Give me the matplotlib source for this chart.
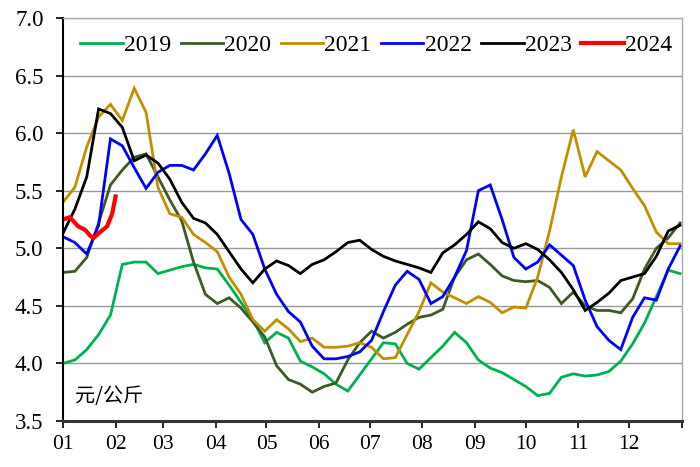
import numpy as np
import matplotlib
matplotlib.use("Agg")
import matplotlib.pyplot as plt

# weekly samples (day of year), one value per week
days = np.arange(0, 365, 7)

y2019 = [4.00, 4.03, 4.12, 4.25, 4.42, 4.86, 4.88, 4.88, 4.78, 4.81,
         4.84, 4.86, 4.83, 4.82, 4.68, 4.53, 4.38, 4.18, 4.27, 4.22,
         4.02, 3.97, 3.91, 3.82, 3.76, 3.90, 4.04, 4.18, 4.17, 4.00,
         3.95, 4.05, 4.15, 4.27, 4.18, 4.03, 3.96, 3.92, 3.86, 3.80,
         3.72, 3.74, 3.88, 3.91, 3.89, 3.90, 3.93, 4.02, 4.17, 4.35,
         4.58, 4.81, 4.78]
y2020 = [4.79, 4.80, 4.92, 5.22, 5.55, 5.68, 5.79, 5.82, 5.62, 5.42,
         5.24, 4.88, 4.60, 4.52, 4.57, 4.48, 4.36, 4.23, 3.98, 3.86,
         3.82, 3.75, 3.80, 3.83, 4.03, 4.18, 4.28, 4.22, 4.27, 4.34,
         4.40, 4.42, 4.47, 4.75, 4.90, 4.95, 4.86, 4.76, 4.72, 4.71,
         4.72, 4.66, 4.52, 4.62, 4.50, 4.46, 4.46, 4.44, 4.56, 4.82,
         5.00, 5.09, 5.22]
y2021 = [5.40, 5.53, 5.88, 6.14, 6.25, 6.11, 6.39, 6.18, 5.53, 5.30,
         5.27, 5.12, 5.05, 4.97, 4.75, 4.60, 4.38, 4.28, 4.38, 4.30,
         4.19, 4.22, 4.14, 4.14, 4.15, 4.18, 4.14, 4.04, 4.05, 4.25,
         4.45, 4.70, 4.62, 4.57, 4.52, 4.58, 4.53, 4.44, 4.49, 4.48,
         4.75, 5.15, 5.62, 6.03, 5.62, 5.84, 5.76, 5.68, 5.52, 5.37,
         5.14, 5.04, 5.04]
y2022 = [5.10, 5.05, 4.95, 5.20, 5.95, 5.89, 5.70, 5.52, 5.66, 5.72,
         5.72, 5.68, 5.82, 5.98, 5.65, 5.25, 5.12, 4.82, 4.60, 4.45,
         4.36, 4.15, 4.04, 4.04, 4.06, 4.10, 4.20, 4.45, 4.68, 4.80,
         4.73, 4.52, 4.58, 4.75, 4.98, 5.50, 5.55, 5.25, 4.92, 4.82,
         4.88, 5.03, 4.94, 4.85, 4.55, 4.32, 4.20, 4.12, 4.40, 4.57,
         4.55, 4.82, 5.02]
y2023 = [5.13, 5.34, 5.62, 6.21, 6.17, 6.05, 5.76, 5.81, 5.74, 5.60,
         5.40, 5.26, 5.22, 5.12, 4.97, 4.82, 4.70, 4.82, 4.89, 4.85,
         4.78, 4.86, 4.90, 4.97, 5.05, 5.07, 4.99, 4.93, 4.89, 4.86,
         4.83, 4.79, 4.96, 5.03, 5.12, 5.23, 5.17, 5.05, 5.00, 5.04,
         4.99, 4.90, 4.79, 4.64, 4.46, 4.53, 4.61, 4.72, 4.75, 4.78,
         4.93, 5.15, 5.20]
days2024 = [0, 4, 9, 13, 16, 18, 21, 26, 29, 31]
y2024 = [5.25, 5.27, 5.19, 5.16, 5.11, 5.09, 5.13, 5.19, 5.30, 5.45]

month_labels = ["01", "02", "03", "04", "05", "06",
                "07", "08", "09", "10", "11", "12"]
month_len = [31, 28, 31, 30, 31, 30, 31, 31, 30, 31, 30, 31]

fig = plt.figure(figsize=(7, 4.67), dpi=100)
ax = fig.add_axes([0.09, 0.0985, 0.884, 0.863])

series = [
    ("2019", days, y2019, "#00B050", 2.0),
    ("2020", days, y2020, "#3B5A26", 2.0),
    ("2021", days, y2021, "#C09000", 2.0),
    ("2022", days, y2022, "#0000FF", 2.0),
    ("2023", days, y2023, "#000000", 2.0),
    ("2024", days2024, y2024, "#FF0000", 3.0),
]
for name, x, y, c, lw in series:
    ax.plot(x, y, color=c, lw=lw, label=name, solid_joinstyle="miter")

ax.set_xlim(0, 365)
ax.set_ylim(3.5, 7.0)

ticks = np.concatenate([[0], np.cumsum(month_len)])
ax.set_xticks(ticks)
ax.set_xticklabels(month_labels + [""], fontfamily="Liberation Serif", fontsize=15.5)
ax.set_yticks(np.arange(3.5, 7.01, 0.5))
ax.set_yticklabels([f"{v:.1f}" for v in np.arange(3.5, 7.01, 0.5)],
                   fontfamily="Liberation Serif", fontsize=16.5)
ax.tick_params(axis="both", direction="out", length=5, width=1.2, color="black")
ax.tick_params(axis="x", pad=5)
ax.tick_params(axis="y", pad=9)

ax.grid(axis="y", color="#999999", lw=1)
ax.set_axisbelow(True)
for s in ["top", "right"]:
    ax.spines[s].set_color("#AAAAAA")
    ax.spines[s].set_linewidth(1)
ax.spines["left"].set_linewidth(1.5)
ax.spines["bottom"].set_linewidth(2.2)
ax.spines["bottom"].set_color("#333333")

ax.legend(loc="center", bbox_to_anchor=(0.506, 0.932), ncol=6, frameon=False,
          prop={"family": "Liberation Serif", "size": 17},
          handlelength=1.8, handletextpad=0.05, columnspacing=0.4, borderaxespad=0,
          borderpad=0)

ax.text(0.019, 0.062, "元/公斤", transform=ax.transAxes, fontsize=14.5,
        family=["Noto Sans CJK SC", "DejaVu Sans"], va="center", ha="left")

fig.savefig("out.png", dpi=100)
